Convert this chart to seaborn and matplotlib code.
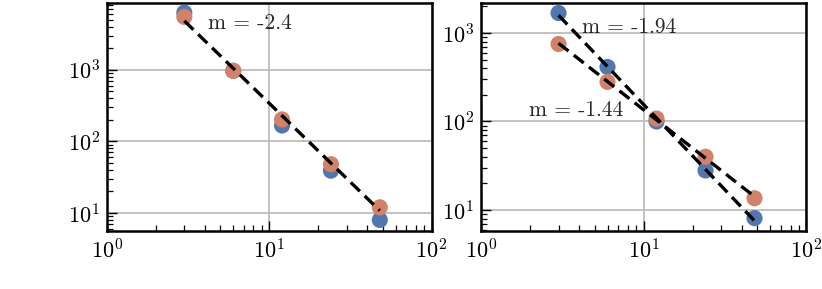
import numpy as np
import pandas as pd
import matplotlib
matplotlib.use('Agg')
import matplotlib.pyplot as plt
import seaborn as sns

# values
sizes = [3, 6, 12, 24, 48]
left_blue = [6300, 970, 167, 39, 8.0]
left_orange = [5500, 970, 203, 48, 12.0]
right_blue = [1680, 413, 100, 28, 8.1]
right_orange = [750, 280, 108, 40, 13.6]
left_ylim = (5.6, 8600)
right_ylim = (5.8, 2180)
BLUE = '#5078ae'
ORANGE = '#d3826a'

sns.set_style('white')
plt.rcParams['font.family'] = 'serif'
plt.rcParams['font.serif'] = ['cmr10', 'DejaVu Serif']
plt.rcParams['mathtext.fontset'] = 'cm'
plt.rcParams['axes.formatter.use_mathtext'] = True
plt.rcParams['axes.unicode_minus'] = False


def fit(x, y):
    k, b = np.polyfit(np.log10(x), np.log10(y), 1)
    xs = np.array([x[0], x[-1]], dtype=float)
    return xs, 10 ** (b + k * np.log10(xs)), k


def panel(ax, blue, orange, ylim):
    df = pd.DataFrame({'x': sizes * 2, 'y': blue + orange,
                       'set': ['a'] * len(sizes) + ['b'] * len(sizes)})
    sns.scatterplot(data=df, x='x', y='y', hue='set', palette=[BLUE, ORANGE],
                    s=135, linewidth=0, alpha=1, legend=False, ax=ax, zorder=3)
    ax.set_xscale('log')
    ax.set_yscale('log')
    ax.set_xlim(1, 100)
    ax.set_ylim(*ylim)
    ax.set_xlabel('')
    ax.set_ylabel('')
    ax.grid(True, which='major', color='#bdbdbd', lw=1.3)
    ax.set_axisbelow(True)
    for sp in ax.spines.values():
        sp.set_linewidth(1.8)
        sp.set_color('black')
    ax.tick_params(which='both', direction='in', left=True, bottom=True,
                   top=False, right=False, labelsize=16, colors='black')
    ax.tick_params(which='major', length=7, width=1.0, pad=5)
    ax.tick_params(which='minor', length=4, width=0.9)


fig = plt.figure(figsize=(8.22, 2.89), dpi=100)
ax1 = fig.add_axes([0.130, 0.2007, 0.395, 0.789])
ax2 = fig.add_axes([0.585, 0.2007, 0.396, 0.789])

panel(ax1, left_blue, left_orange, left_ylim)
xs, ys, _ = fit(sizes, left_orange)
ax1.plot(xs, ys, ls=(0, (3.8, 2)), color='black', lw=2.4, zorder=4)
ax1.text(4.2, 4500, 'm = -2.4', fontsize=15.5, va='center')

panel(ax2, right_blue, right_orange, right_ylim)
xs, ys, kb = fit(sizes, right_blue)
ax2.plot(xs, ys, ls=(0, (3.8, 2)), color='black', lw=2.4, zorder=4)
xs, ys, ko = fit(sizes, right_orange)
ax2.plot(xs, ys, ls=(0, (3.8, 2)), color='black', lw=2.4, zorder=4)
ax2.text(4.2, 1170, 'm = -1.94', fontsize=15.5, va='center')
ax2.text(1.97, 133, 'm = -1.44', fontsize=15.5, va='center')

fig.savefig('out.png', dpi=100)
